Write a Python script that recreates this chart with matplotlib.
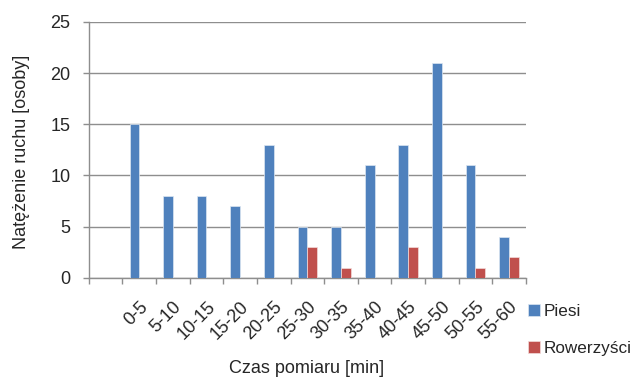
import numpy as np
import matplotlib
matplotlib.use('Agg')
import matplotlib.pyplot as plt

plt.rcParams['font.family'] = ['Liberation Sans', 'DejaVu Sans']

# data
categories = ['0-5', '5-10', '10-15', '15-20', '20-25', '25-30',
              '30-35', '35-40', '40-45', '45-50', '50-55', '55-60']
piesi = [15, 8, 8, 7, 13, 5, 5, 11, 13, 21, 11, 4]
rowerzysci = [0, 0, 0, 0, 0, 3, 1, 0, 3, 0, 1, 2]

BLUE = '#4F81BD'
RED = '#C0504D'
GRID = '#8E8E8E'
TXT = '#262626'

fig = plt.figure(figsize=(6.39, 3.78), dpi=100)
ax = fig.add_axes([0.139, 0.265, 0.684, 0.677])

# first slot of the axis is an empty category in the original
x = np.arange(1, len(categories) + 1)
w = 0.29
ax.bar(x - w / 2, piesi, w, color=BLUE, edgecolor='#DCE6F2', linewidth=0.5, label='Piesi', zorder=3)
ax.bar(x + w / 2, rowerzysci, w, color=RED, edgecolor='#F2DCDB', linewidth=0.5, label='Rowerzyści', zorder=3)

ax.set_xlim(-0.5, len(categories) + 0.5)
ax.set_ylim(0, 25)
ax.set_yticks(range(0, 26, 5))
ax.yaxis.grid(True, color=GRID, linewidth=1)
ax.set_axisbelow(True)

ax.set_xticks(x)
ax.set_xticklabels(categories, rotation=45, ha='right', rotation_mode='anchor', fontsize=13, color=TXT)
ax.set_xticks(np.arange(-0.5, len(categories) + 1), minor=True)
ax.tick_params(axis='x', which='major', length=0, pad=15)
ax.tick_params(axis='x', which='minor', length=4.3, color=GRID, width=1)
ax.tick_params(axis='y', length=4.3, color=GRID, width=1, labelsize=13, labelcolor=TXT, pad=9)

for s in ['top', 'right']:
    ax.spines[s].set_visible(False)
for s in ['left', 'bottom']:
    ax.spines[s].set_color(GRID)
    ax.spines[s].set_linewidth(1)

fig.text(22 / 639, 0.597, 'Natężenie ruchu [osoby]', rotation=90, ha='center', va='center',
         fontsize=13, color=TXT)
fig.text(307 / 639, 0.026, 'Czas pomiaru [min]', ha='center', va='center', fontsize=13, color=TXT)

fig.legend(loc='center left', bbox_to_anchor=(0.826, 0.127), frameon=False, fontsize=12.3,
           handlelength=0.7, handleheight=0.7, handletextpad=0.25, labelspacing=1.25,
           borderpad=0, borderaxespad=0, labelcolor=TXT)

fig.savefig('out.png', dpi=100)
